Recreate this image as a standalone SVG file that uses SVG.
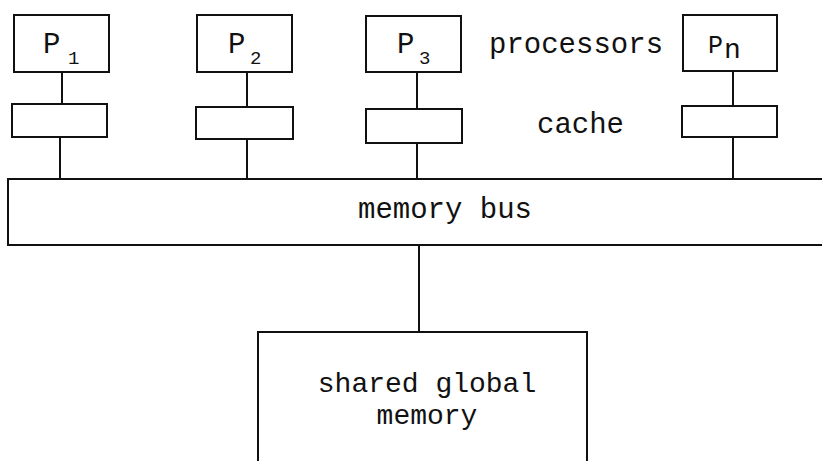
<svg xmlns="http://www.w3.org/2000/svg" width="822" height="461" viewBox="0 0 822 461">
  <style>
    .box { fill: #fff; stroke: #111; stroke-width: 2; }
    .wire { stroke: #111; stroke-width: 2; fill: none; }
    .lbl { font-family: "Liberation Mono", "Courier New", monospace; font-size: 29px; fill: #111; }
    .sub { font-family: "Liberation Mono", "Courier New", monospace; font-size: 19px; fill: #111; }
  </style>
  <rect width="822" height="461" fill="#fff"/>

  <!-- connectors -->
  <g id="connectors" class="wire">
    <line x1="62" y1="72" x2="62" y2="104"/>
    <line x1="60" y1="137" x2="60" y2="179"/>
    <line x1="247" y1="72" x2="247" y2="107"/>
    <line x1="247" y1="139" x2="247" y2="179"/>
    <line x1="417" y1="72" x2="417" y2="109"/>
    <line x1="417" y1="143" x2="417" y2="179"/>
    <line x1="733" y1="71" x2="733" y2="106"/>
    <line x1="733" y1="137" x2="733" y2="179"/>
    <line x1="419" y1="245" x2="419" y2="332"/>
  </g>

  <!-- processors -->
  <g id="p1">
    <rect class="box" x="14" y="15" width="95" height="57"/>
    <text class="lbl" x="43" y="53">P</text>
    <text class="sub" x="68" y="64">1</text>
  </g>
  <g id="p2">
    <rect class="box" x="197" y="15" width="95" height="57"/>
    <text class="lbl" x="228" y="53">P</text>
    <text class="sub" x="250" y="64">2</text>
  </g>
  <g id="p3">
    <rect class="box" x="366" y="16" width="95" height="56"/>
    <text class="lbl" x="397" y="53">P</text>
    <text class="sub" x="419" y="64">3</text>
  </g>
  <g id="pn">
    <rect class="box" x="683" y="15" width="94" height="56"/>
    <text class="lbl" x="708" y="53" style="font-size:25px">P</text>
    <text class="lbl" x="724" y="58" style="font-size:28px">n</text>
  </g>

  <!-- caches -->
  <g id="c1"><rect class="box" x="12" y="104" width="95" height="33"/></g>
  <g id="c2"><rect class="box" x="196" y="107" width="97" height="32"/></g>
  <g id="c3"><rect class="box" x="366" y="109" width="96" height="34"/></g>
  <g id="cn"><rect class="box" x="682" y="106" width="95" height="31"/></g>

  <!-- row labels -->
  <g id="labels">
    <text class="lbl" x="489" y="53">processors</text>
    <text class="lbl" x="537" y="133">cache</text>
  </g>

  <!-- bus -->
  <g id="bus">
    <rect class="box" x="8" y="179" width="830" height="66"/>
    <text class="lbl" x="445" y="218" text-anchor="middle">memory bus</text>
  </g>

  <!-- shared memory -->
  <g id="memory">
    <rect class="box" x="258" y="332" width="329" height="140"/>
    <text class="lbl" x="427" y="392" text-anchor="middle" style="font-size:28px">shared global</text>
    <text class="lbl" x="427" y="424" text-anchor="middle" style="font-size:28px">memory</text>
  </g>
</svg>
